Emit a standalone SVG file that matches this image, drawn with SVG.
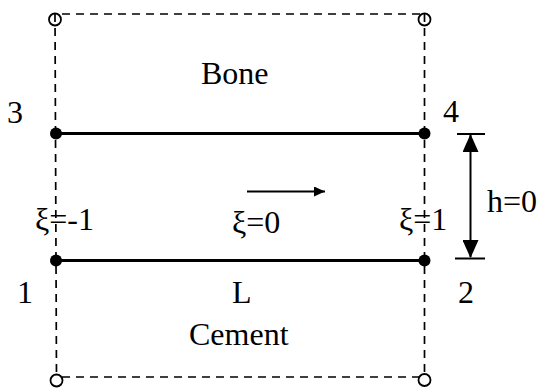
<svg xmlns="http://www.w3.org/2000/svg" width="544" height="391" viewBox="0 0 544 391">
<style>
text{font-family:"Liberation Serif","Times New Roman",serif;font-size:32px;fill:#000}
.dash{stroke:#000;stroke-width:1.7;stroke-dasharray:8 6;fill:none}
.solid{stroke:#000;stroke-width:3;fill:none}
.open{fill:#fff;stroke:#000;stroke-width:1.8}
.dot{fill:#000}
.thin{stroke:#000;stroke-width:2;fill:none}
</style>
<defs>
<marker id="headBig" markerUnits="userSpaceOnUse" markerWidth="18" markerHeight="16" refX="17" refY="8" orient="auto-start-reverse" viewBox="0 0 18 16">
<path d="M0,0 L18,8 L0,16 Z" fill="#000"/>
</marker>
<marker id="headSmall" markerUnits="userSpaceOnUse" markerWidth="11" markerHeight="10" refX="11" refY="5" orient="auto" viewBox="0 0 11 10">
<path d="M0,0 L11,5 L0,10 Z" fill="#000"/>
</marker>
</defs>
<g id="connectors">
<line class="dash" x1="62" y1="14" x2="425" y2="14"/>
<line class="dash" x1="62" y1="377" x2="420" y2="377"/>
<line class="dash" x1="55" y1="14" x2="56.5" y2="380"/>
<line class="dash" x1="424.5" y1="14" x2="424.5" y2="380"/>
<line class="solid" x1="56" y1="133.5" x2="425" y2="133.5"/>
<line class="solid" x1="56" y1="260.5" x2="425" y2="260.5"/>
<line class="thin" x1="247" y1="191.5" x2="325" y2="191.5" marker-end="url(#headSmall)" stroke-width="2.5"/>
<line class="thin" x1="457" y1="134" x2="485" y2="134"/>
<line class="thin" x1="455" y1="258.5" x2="485" y2="258.5"/>
<line class="thin" x1="470.5" y1="135" x2="470.5" y2="257" stroke-width="2.5" marker-start="url(#headBig)" marker-end="url(#headBig)"/>
</g>
<g id="corner-tl"><circle class="open" cx="55" cy="19.5" r="6"/><line x1="55" y1="14" x2="55" y2="22" stroke="#000" stroke-width="1.7"/></g>
<g id="corner-tr"><circle class="open" cx="424.5" cy="19.5" r="6"/><line x1="424.5" y1="14" x2="424.5" y2="22" stroke="#000" stroke-width="1.7"/></g>
<g id="corner-bl"><circle class="open" cx="56.5" cy="380.5" r="6"/></g>
<g id="corner-br"><circle class="open" cx="424.5" cy="380" r="6"/></g>
<g id="node3"><circle class="dot" cx="56" cy="133.5" r="6"/><text x="7" y="122.5">3</text></g>
<g id="node4"><circle class="dot" cx="424.5" cy="133.5" r="6"/><text x="443" y="122">4</text></g>
<g id="node1"><circle class="dot" cx="56" cy="260.5" r="6"/><text x="17" y="303">1</text></g>
<g id="node2"><circle class="dot" cx="424.5" cy="260.5" r="6"/><text x="458" y="303">2</text></g>
<g id="labels">
<text x="201" y="84">Bone</text>
<text x="35" y="230">ξ=-1</text>
<text x="232" y="233">ξ=0</text>
<text x="399" y="230">ξ=1</text>
<text x="487" y="212">h=0</text>
<text x="232" y="303">L</text>
<text x="189" y="345">Cement</text>
</g>
</svg>
